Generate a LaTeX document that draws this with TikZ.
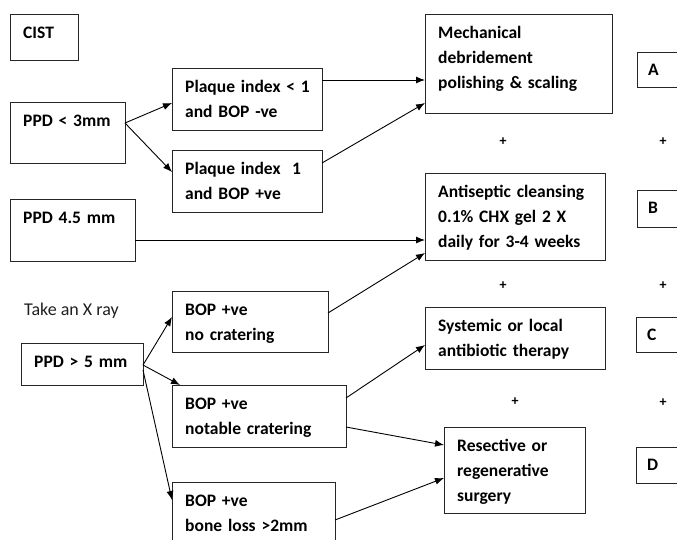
\documentclass[tikz,border=0pt]{standalone}
\usepackage{fontspec}
\setmainfont{Carlito}
\usetikzlibrary{arrows.meta}
\begin{document}
\begin{tikzpicture}[x=1pt,y=-1pt,
  box/.style={draw=black!85, line width=0.9pt, anchor=north west, inner sep=0pt, outer sep=0pt},
  lbl/.style={anchor=base west, xshift=13pt, yshift=-24pt, inner sep=0pt, text width=220pt, align=left,
    font=\fontsize{17.5}{25}\selectfont\bfseries},
  conn/.style={line width=0.9pt, -{Latex[length=9pt,width=7pt]}},
  plus/.style={font=\fontsize{14}{14}\selectfont\bfseries, inner sep=0pt}]
\path[use as bounding box, clip] (0,0) rectangle (677,539);
% boxes
\node[box, minimum width=68pt, minimum height=46pt, label={[lbl]north west:CIST}] (cist) at (10,14) {};
\node[box, minimum width=115pt, minimum height=61pt, label={[lbl]north west:PPD < 3mm}] (ppd3) at (10,102) {};
\node[box, minimum width=150pt, minimum height=62pt, label={[lbl]north west:Plaque index < 1\\and BOP -ve}] (pl1) at (172,68) {};
\node[box, minimum width=150pt, minimum height=62pt, label={[lbl]north west:Plaque index\ \ 1\\and BOP +ve}] (pl2) at (172,150) {};
\node[box, minimum width=125pt, minimum height=62pt, label={[lbl]north west:PPD 4.5 mm}] (ppd45) at (10,199) {};
\node[box, minimum width=187pt, minimum height=99pt, label={[lbl]north west:Mechanical\\debridement\\polishing \& scaling}] (mech) at (425,14) {};
\node[box, minimum width=180pt, minimum height=87pt, label={[lbl]north west:Antiseptic cleansing\\0.1\% CHX gel 2 X\\daily for 3-4 weeks}] (anti) at (425,173) {};
\node[box, minimum width=60pt, minimum height=35pt, label={[lbl, xshift=-2pt, yshift=1pt]north west:A}] (bA) at (637,52) {};
\node[box, minimum width=60pt, minimum height=37pt, label={[lbl, xshift=-2pt, yshift=1pt]north west:B}] (bB) at (637,190) {};
\node[box, minimum width=60pt, minimum height=35pt, label={[lbl, xshift=-2pt, yshift=1pt]north west:C}] (bC) at (636,317) {};
\node[box, minimum width=60pt, minimum height=36pt, label={[lbl, xshift=-2pt, yshift=1pt]north west:D}] (bD) at (636,447) {};
\node[anchor=base west, inner sep=0pt, font=\fontsize{18}{25}\selectfont, text=black!88] (xray) at (24,315) {Take an X ray};
\node[box, minimum width=122pt, minimum height=42pt, label={[lbl]north west:PPD > 5 mm}] (ppd5) at (21,343) {};
\node[box, minimum width=156pt, minimum height=61pt, label={[lbl]north west:BOP +ve\\no cratering}] (bop1) at (172,291) {};
\node[box, minimum width=174pt, minimum height=62pt, label={[lbl]north west:BOP +ve\\notable cratering}] (bop2) at (172,385) {};
\node[box, minimum width=163pt, minimum height=80pt, label={[lbl]north west:BOP +ve\\bone loss >2mm}] (bop3) at (172,482) {};
\node[box, minimum width=180pt, minimum height=62pt, label={[lbl]north west:Systemic or local\\antibiotic therapy}] (sys) at (425,307) {};
\node[box, minimum width=141pt, minimum height=86pt, label={[lbl]north west:Resective or\\regenerative\\surgery}] (res) at (444,427) {};
% plus signs
\node[plus] (p1) at (503,142) {+};
\node[plus] (p2) at (663,142) {+};
\node[plus] (p3) at (503,286) {+};
\node[plus] (p4) at (663,286) {+};
\node[plus] (p5) at (515,402) {+};
\node[plus] (p6) at (663,403) {+};
% connectors
\draw[conn] ([yshift=-21pt]ppd3.north east) -- ([yshift=-35pt]pl1.north west);
\draw[conn] ([yshift=-21pt]ppd3.north east) -- ([yshift=-22pt]pl2.north west);
\draw[conn] ([yshift=-12pt]pl1.north east) -- ([yshift=-66pt]mech.north west);
\draw[conn] ([yshift=-13pt]pl2.north east) -- ([yshift=-89pt]mech.north west);
\draw[conn] ([yshift=-41pt]ppd45.north east) -- ([yshift=-67pt]anti.north west);
\draw[conn] ([yshift=-22pt]bop1.north east) -- ([yshift=-80pt]anti.north west);
\draw[conn] ([yshift=-22pt]ppd5.north east) -- ([yshift=-26pt]bop1.north west);
\draw[conn] ([yshift=-22pt]ppd5.north east) -- ([xshift=8pt]bop2.north west);
\draw[conn] ([yshift=-27pt]ppd5.north east) -- ([yshift=-18pt]bop3.north west);
\draw[conn] ([yshift=-13pt]bop2.north east) -- ([yshift=-38pt]sys.north west);
\draw[conn] ([yshift=-42pt]bop2.north east) -- ([yshift=-18pt]res.north west);
\draw[conn] ([yshift=-38pt]bop3.north east) -- ([yshift=-51pt]res.north west);
\end{tikzpicture}
\end{document}
